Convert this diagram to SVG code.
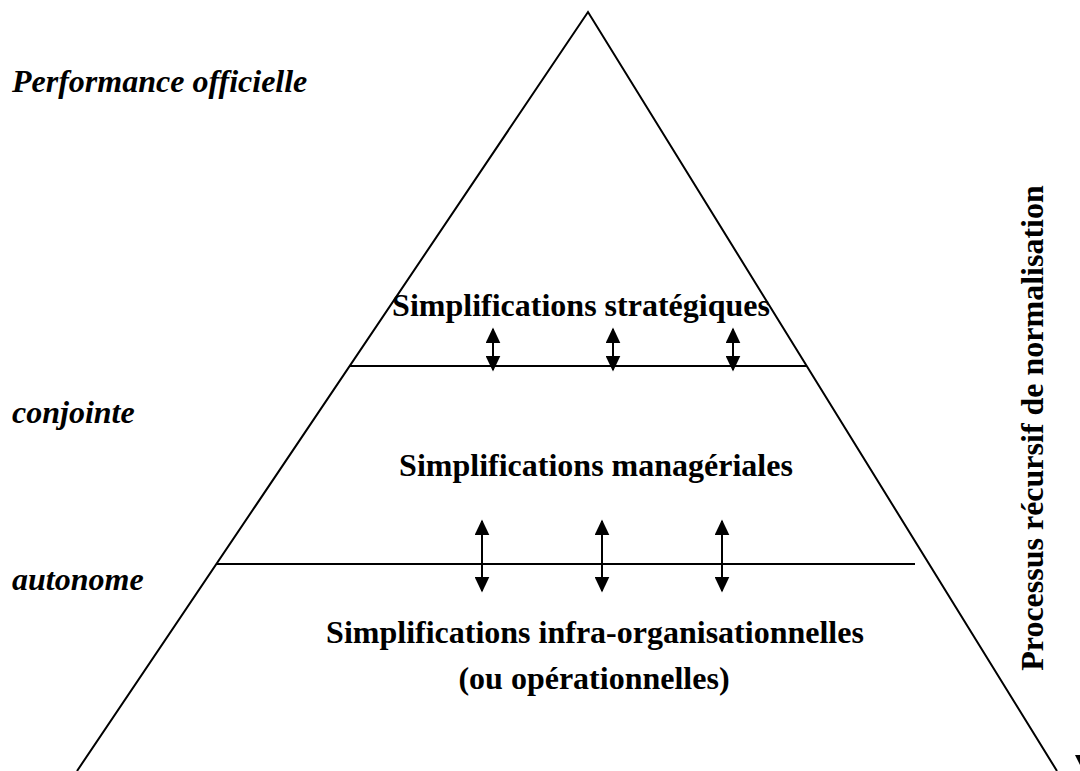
<svg xmlns="http://www.w3.org/2000/svg" width="1080" height="771" viewBox="0 0 1080 771">
<defs>
<style>
.ln{stroke:#000;stroke-width:2;fill:none}
.ar{stroke:#000;stroke-width:2;fill:none;marker-start:url(#ah);marker-end:url(#ah)}
.t{font-family:"Liberation Serif","Times New Roman",serif;font-weight:bold;font-size:32px;fill:#000}
.l{font-family:"Liberation Serif","Times New Roman",serif;font-weight:bold;font-style:italic;font-size:32px;fill:#000}
</style>
<marker id="ah" viewBox="0 0 10 10" refX="9" refY="5" markerWidth="16" markerHeight="15" markerUnits="userSpaceOnUse" orient="auto-start-reverse" preserveAspectRatio="none">
<path d="M0,0 L10,5 L0,10 Z" fill="#000"/>
</marker>
</defs>
<rect width="1080" height="771" fill="#fff"/>
<g id="pyramid">
<polyline class="ln" points="77,771 588,12 1057,771"/>
<line class="ln" x1="350" y1="366" x2="807" y2="366"/>
<line class="ln" x1="217" y1="564" x2="915" y2="564"/>
</g>
<g id="level-strategic">
<text class="t" x="581" y="316" text-anchor="middle">Simplifications stratégiques</text>
</g>
<g id="level-managerial">
<text class="t" x="596" y="476" text-anchor="middle">Simplifications managériales</text>
</g>
<g id="level-operational">
<text class="t" x="595" y="643" text-anchor="middle">Simplifications infra-organisationnelles</text>
<text class="t" x="594" y="689" text-anchor="middle">(ou opérationnelles)</text>
</g>
<g id="labels">
<text class="l" x="12" y="92">Performance officielle</text>
<text class="l" x="12" y="423">conjointe</text>
<text class="l" x="12" y="590">autonome</text>
<text class="t" transform="translate(1043,428) rotate(-90)" text-anchor="middle">Processus récursif de normalisation</text>
</g>
<g id="connectors">
<line class="ar" x1="493" y1="329" x2="493" y2="370"/>
<line class="ar" x1="613" y1="329" x2="613" y2="370"/>
<line class="ar" x1="733" y1="329" x2="733" y2="370"/>
<line class="ar" x1="482" y1="521" x2="482" y2="591"/>
<line class="ar" x1="602" y1="521" x2="602" y2="591"/>
<line class="ar" x1="722" y1="521" x2="722" y2="591"/>
<path d="M1075,755 L1080,755 L1080,765 Z" fill="#000"/>
</g>
</svg>
